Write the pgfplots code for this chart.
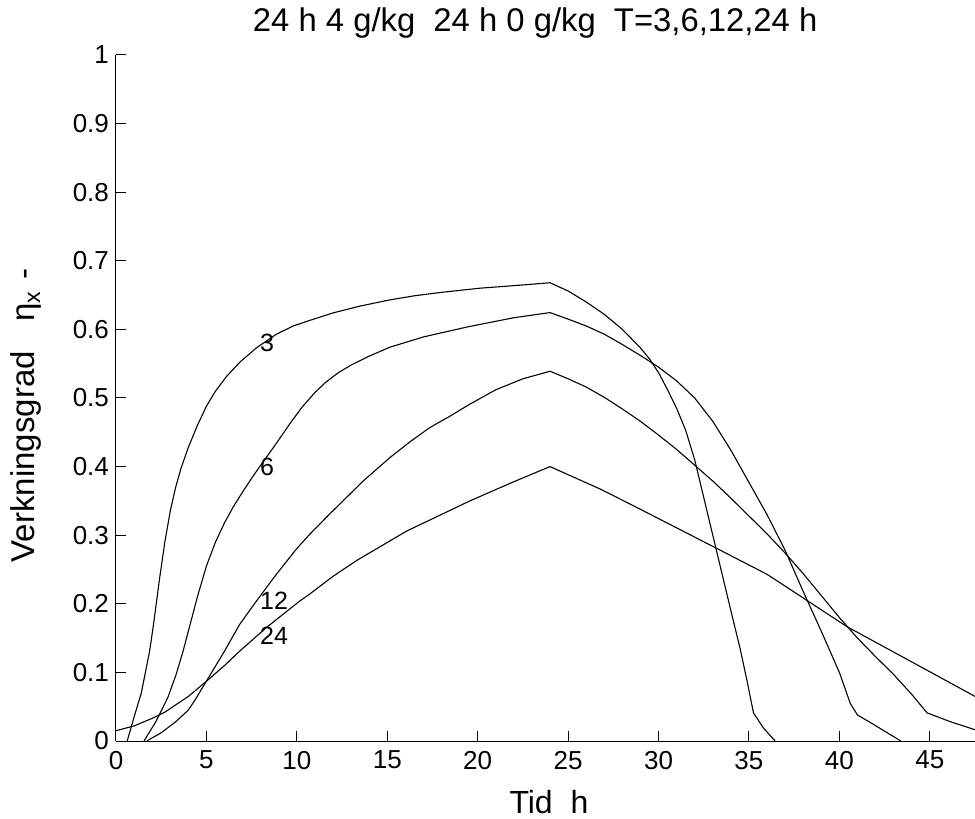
\documentclass[border=0pt]{standalone}
\usepackage{fontspec}
\setmainfont{Liberation Sans}
\usepackage{pgfplots}
\pgfplotsset{compat=1.18}
\begin{document}
\begin{tikzpicture}
\path[use as bounding box] (-58pt,-39pt) rectangle (429.5pt,370.5pt);
\begin{axis}[
  at={(0,0)}, anchor=south west,
  scale only axis, width=429.5pt, height=343pt,
  xmin=0, xmax=47.5, ymin=0, ymax=1,
  axis x line*=bottom, axis y line*=left, tick pos=left,
  xtick={0,5,10,15,20,25,30,35,40,45},
  ytick={0,0.1,0.2,0.3,0.4,0.5,0.6,0.7,0.8,0.9,1},
  tick align=inside, major tick length=5pt,
  every tick/.style={black, line width=0.5pt},
  axis line style={black, line width=0.5pt},
  /pgf/number format/assume math mode=true,
  ticklabel style={font=\fontsize{13}{15}\selectfont},
  xticklabel style={yshift=-1.5pt},
  title={24 h 4 g/kg\ \ 24 h 0 g/kg\ \ T=3,6,12,24 h},
  title style={at={(axis description cs:0.488,1)}, anchor=base, yshift=5.5pt, font=\fontsize{16.4}{19}\selectfont},
  xlabel={Tid\ \ h},
  xlabel style={at={(axis description cs:0.504,-0.106)}, anchor=base, font=\fontsize{16}{19}\selectfont},
  ylabel={Verkningsgrad\hspace{0.9em}η\textsubscript{x}\hspace{0.35em}-},
  ylabel style={at={(axis description cs:-0.0943,0.475)}, anchor=base, font=\fontsize{16.5}{19}\selectfont},
]
\addplot[black, line width=0.55pt, mark=none] coordinates {(0.62,0) (1.0,0.035) (1.4,0.07) (1.86,0.131) (2.1,0.175) (2.4,0.235) (2.7,0.29) (3.0,0.335) (3.3,0.37) (3.6,0.398) (4.0,0.428) (4.5,0.46) (5.0,0.488) (5.5,0.51) (6.1,0.531) (6.84,0.552) (7.76,0.573) (8.87,0.593) (9.8,0.605) (10.7,0.613) (12,0.624) (13.5,0.634) (15.14,0.643) (16.5,0.649) (18,0.654) (20.1,0.66) (22.6,0.665) (24,0.668) (25,0.656) (26,0.64) (27,0.622) (28,0.6) (29,0.573) (29.5,0.557) (30,0.537) (30.5,0.512) (31,0.485) (31.5,0.453) (32,0.41) (32.5,0.355) (33,0.3) (33.5,0.245) (34,0.19) (34.5,0.136) (34.9,0.087) (35.25,0.041) (35.8,0.019) (36.45,0)};
\addplot[black, line width=0.55pt, mark=none] coordinates {(1.55,0) (2.2,0.028) (2.86,0.063) (3.3,0.095) (3.7,0.13) (4.0,0.16) (4.5,0.21) (5.0,0.255) (5.5,0.29) (6.0,0.318) (6.5,0.342) (7.0,0.363) (7.5,0.383) (8.0,0.402) (8.87,0.434) (9.6,0.462) (10.3,0.487) (11.0,0.508) (11.6,0.523) (12.3,0.537) (13,0.548) (14,0.561) (15.14,0.574) (17,0.589) (19.5,0.604) (22,0.617) (24,0.6245) (25,0.615) (26,0.605) (27,0.593) (28,0.578) (29,0.562) (30,0.545) (31,0.525) (32,0.5) (33,0.466) (34,0.424) (35,0.377) (36,0.33) (37,0.278) (38,0.218) (39,0.16) (40,0.1) (40.6,0.055) (41,0.038) (41.9,0.024) (43.4,0)};
\addplot[black, line width=0.55pt, mark=none] coordinates {(1.7,0) (2.5,0.012) (3.3,0.028) (4.0,0.045) (4.4,0.061) (5.2,0.096) (6.0,0.131) (6.84,0.17) (7.6,0.198) (8.3,0.223) (8.87,0.243) (9.98,0.28) (10.7,0.301) (11.82,0.331) (13.67,0.379) (15.14,0.413) (16.3,0.437) (17.36,0.457) (18.5,0.474) (19.5,0.49) (21,0.512) (22.5,0.528) (24,0.539) (25,0.528) (26,0.516) (27,0.501) (28,0.484) (29,0.466) (30,0.446) (31,0.425) (32,0.402) (33,0.379) (34,0.354) (35,0.328) (36,0.302) (37,0.274) (38,0.244) (39,0.212) (40,0.18) (41,0.15) (42,0.123) (43,0.097) (44,0.068) (44.85,0.041) (46.1,0.0285) (47.5,0.0164) (48,0.013)};
\addplot[black, line width=0.55pt, mark=none] coordinates {(0,0.015) (1,0.022) (2,0.033) (2.7,0.042) (4,0.065) (5,0.087) (6,0.11) (6.84,0.131) (8.3,0.165) (10.16,0.204) (10.7,0.214) (12,0.24) (13.3,0.263) (16.07,0.306) (19.57,0.35) (22,0.378) (24,0.40) (26.8,0.367) (28.98,0.338) (33.2,0.281) (36.0,0.243) (37.8,0.212) (40.4,0.167) (44.65,0.106) (47.5,0.065) (48,0.058)};
\node[anchor=west, inner sep=0pt, font=\fontsize{12.5}{15}\selectfont] at (axis cs:7.95,0.58) {3};
\node[anchor=west, inner sep=0pt, font=\fontsize{12.5}{15}\selectfont] at (axis cs:7.95,0.40) {6};
\node[anchor=west, inner sep=0pt, font=\fontsize{12.5}{15}\selectfont] at (axis cs:7.95,0.204) {12};
\node[anchor=west, inner sep=0pt, font=\fontsize{12.5}{15}\selectfont] at (axis cs:7.95,0.153) {24};
\end{axis}
\end{tikzpicture}
\end{document}
